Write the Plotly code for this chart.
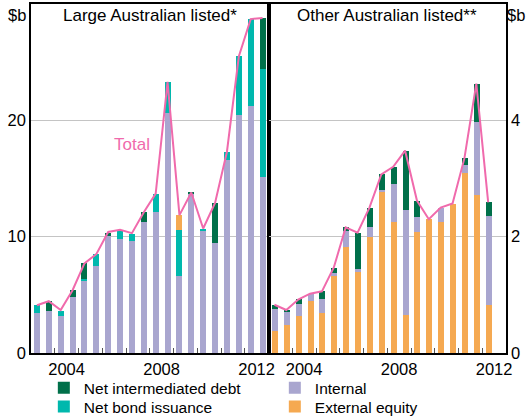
import plotly.graph_objects as go

# half-year periods (bar centres in fractional years)
periods_large = [2003.25 + 0.5 * i for i in range(20)]
periods_other = [2003.25 + 0.5 * i for i in range(19)]

# Large Australian listed ($b)
large_internal = [3.4, 3.65, 3.15, 4.85, 6.15, 7.45, 10.05, 9.8, 9.6, 11.25,
                  12.1, 20.6, 6.6, 13.7, 10.45, 9.45, 16.55, 20.45, 21.2, 15.1]
large_bond = [0.7, 0, 0.5, 0, 0.25, 1.05, 0, 0.75, 0.65, 0,
              1.6, 2.7, 3.95, 0, 0.25, 0, 0.7, 5.05, 7.5, 9.3]
large_equity = [0, 0, 0, 0, 0, 0, 0, 0, 0, 0,
                0, 0, 1.3, 0, 0, 0, 0, 0, 0, 0]
large_debt = [0, 0.8, 0, 0.55, 1.3, 0, 0.3, 0, 0, 0.85,
              0, 0, 0, 0.1, 0, 3.45, 0, 0, 0, 4.4]
large_total = [4.1, 4.45, 3.7, 5.4, 7.7, 8.5, 10.4, 10.6, 10.3, 12.1,
               13.7, 23.3, 11.85, 13.8, 10.7, 12.9, 17.3, 25.5, 28.7, 28.8]

# Other Australian listed ($b)
other_equity = [0.37, 0.49, 0.63, 0.89, 0.68, 1.33, 1.83, 1.39, 1.99, 2.77,
                2.26, 0.66, 2.08, 2.30, 2.26, 2.57, 3.09, 2.71, 0.82]
other_internal = [0.38, 0.23, 0.21, 0.13, 0.24, 0.04, 0.26, 0.06, 0.17, 0.03,
                  0.64, 1.79, 0.25, 0, 0.24, 0, 0.15, 1.26, 1.53]
other_bond = [0] * 19
other_debt = [0.08, 0.02, 0.08, 0, 0.14, 0.10, 0.07, 0.62, 0.34, 0.27,
              0.30, 1.03, 0.29, 0, 0, 0, 0.11, 0.66, 0.24]
other_total = [0.83, 0.74, 0.92, 1.02, 1.06, 1.47, 2.16, 2.07, 2.5, 3.07,
               3.2, 3.48, 2.62, 2.30, 2.5, 2.57, 3.35, 4.63, 2.59]

C_DEBT = '#00704a'
C_BOND = '#00b8ad'
C_INT = '#a9a6cf'
C_EQ = '#f5a951'
C_TOTAL = '#f06aac'
FONT = 'Arial, Liberation Sans, sans-serif'
BW = 0.25

fig = go.Figure()

# left panel, stacking order: internal, bond, equity, debt
# legend row 1 (legend): debt, internal; row 2 (legend2): bond, equity
left = [('Internal', large_internal, C_INT, 'legend', 2),
        ('Net bond issuance', large_bond, C_BOND, 'legend2', 1),
        ('External equity', large_equity, C_EQ, 'legend2', 2),
        ('Net intermediated debt', large_debt, C_DEBT, 'legend', 1)]
for name, vals, col, leg, rank in left:
    fig.add_trace(go.Bar(x=periods_large, y=vals, name=name, marker=dict(color=col, line_width=0),
                         width=BW, legendgroup=name, legend=leg, legendrank=rank, showlegend=True,
                         xaxis='x', yaxis='y'))

# right panel, stacking order: equity, internal, bond, debt
right = [('External equity', other_equity, C_EQ),
         ('Internal', other_internal, C_INT),
         ('Net bond issuance', other_bond, C_BOND),
         ('Net intermediated debt', other_debt, C_DEBT)]
for name, vals, col in right:
    fig.add_trace(go.Bar(x=periods_other, y=vals, name=name, marker=dict(color=col, line_width=0),
                         width=BW, legendgroup=name, showlegend=False,
                         xaxis='x2', yaxis='y2'))

fig.add_trace(go.Scatter(x=periods_large, y=large_total, mode='lines', line=dict(color=C_TOTAL, width=2),
                         showlegend=False, xaxis='x', yaxis='y'))
fig.add_trace(go.Scatter(x=periods_other, y=other_total, mode='lines', line=dict(color=C_TOTAL, width=2),
                         showlegend=False, xaxis='x2', yaxis='y2'))

year_bounds = list(range(2004, 2013))
xcommon = dict(range=[2003, 2013], tickvals=[2004.5, 2008.5, 2012.5], ticktext=['2004', '2008', '2012'],
               ticks='', showgrid=False, zeroline=False, showline=True, mirror=True,
               linecolor='black', linewidth=1.5, tickfont=dict(size=16.5, color='black'),
               minor=dict(tickmode='array', tickvals=year_bounds, ticks='inside', ticklen=5,
                          tickcolor='#555555', tickwidth=1, showgrid=False))
ycommon = dict(showgrid=True, gridcolor='#c4c4c4', gridwidth=1, zeroline=False, showline=True,
               mirror=True, linecolor='black', linewidth=1.5, ticks='',
               tickfont=dict(size=16.5, color='black'))

legend_style = dict(orientation='h', xanchor='left', yanchor='top', entrywidth=186,
                    font=dict(size=15.5), itemwidth=30, traceorder='normal',
                    bgcolor='rgba(0,0,0,0)')

fig.update_layout(
    width=528, height=418,
    margin=dict(l=31, r=22, t=4, b=65, autoexpand=False),
    paper_bgcolor='white', plot_bgcolor='white',
    barmode='stack', bargap=0,
    font=dict(family=FONT, color='black'),
    xaxis=dict(domain=[0, 0.5], anchor='y', **xcommon),
    xaxis2=dict(domain=[0.5, 1], anchor='y2', **xcommon),
    yaxis=dict(range=[0, 30], tickvals=[0, 10, 20], anchor='x', side='left', **ycommon),
    yaxis2=dict(range=[0, 6], tickvals=[0, 2, 4], anchor='x2', side='right', **ycommon),
    legend=dict(x=0.027, y=-0.052, **legend_style),
    legend2=dict(x=0.027, y=-0.106, **legend_style),
    showlegend=True,
    annotations=[
        dict(text='Large Australian listed*', xref='x domain', yref='paper', x=0.5, y=1.0,
             xanchor='center', yanchor='top', showarrow=False, font=dict(size=17)),
        dict(text='Other Australian listed**', xref='x2 domain', yref='paper', x=0.5, y=1.0,
             xanchor='center', yanchor='top', showarrow=False, font=dict(size=17)),
        dict(text='$b', xref='paper', yref='paper', x=-0.006, y=1.0, xanchor='right', yanchor='top',
             showarrow=False, font=dict(size=16.5)),
        dict(text='$b', xref='paper', yref='paper', x=1.045, y=1.0, xanchor='right', yanchor='top',
             showarrow=False, font=dict(size=16.5)),
        dict(text='Total', xref='x', yref='y', x=2007.25, y=17.9, showarrow=False,
             font=dict(size=17, color=C_TOTAL)),
    ],
)

fig.write_html('out.html', config={'displayModeBar': False},
               post_script="document.body.style.margin='0px';")
